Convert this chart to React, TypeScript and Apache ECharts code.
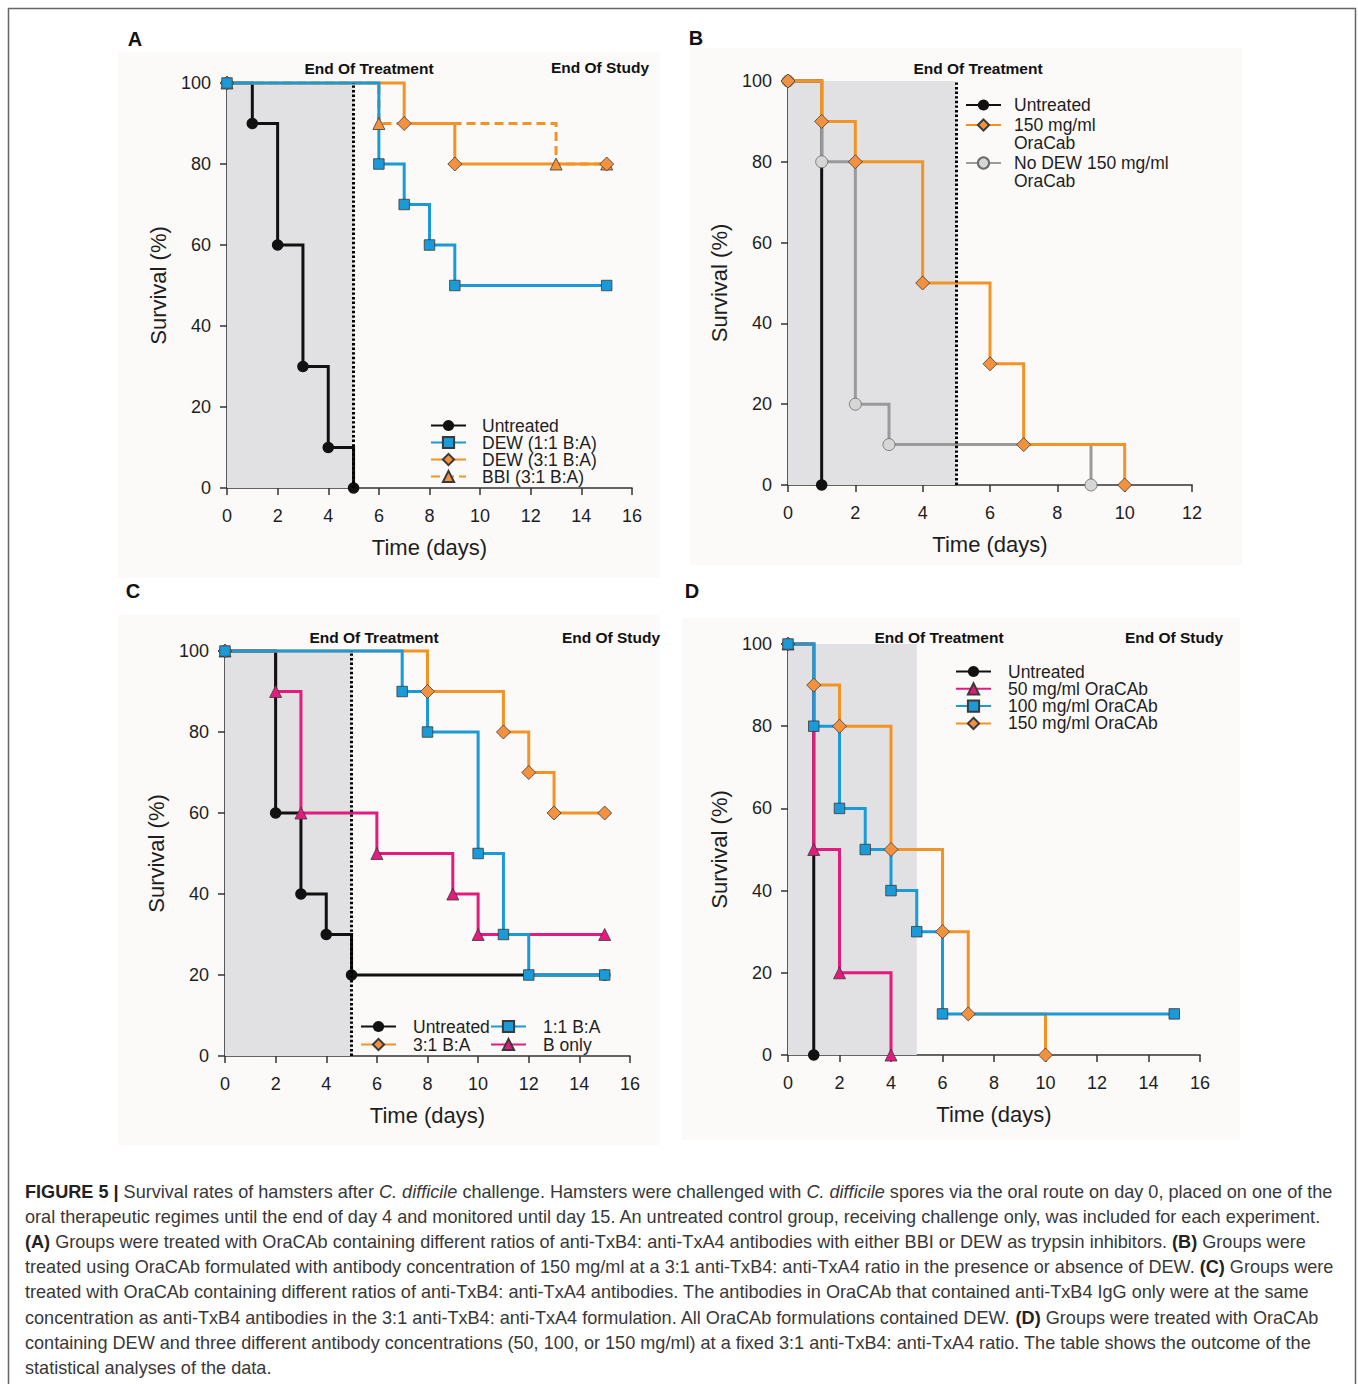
import React, { useEffect, useRef } from 'react';
import * as echarts from 'echarts';

const FONT = '"Liberation Sans", Arial, Helvetica, sans-serif';

// ---------- Panel A ----------
const aDaysUntreated = [0, 1, 2, 3, 4, 5];
const aSurvUntreated = [100, 90, 60, 30, 10, 0];
const aDaysDew11 = [0, 6, 7, 8, 9, 15];
const aSurvDew11 = [100, 80, 70, 60, 50, 50];
const aDaysDew31 = [0, 7, 9, 15];
const aSurvDew31 = [100, 90, 80, 80];
const aDaysBbi31 = [0, 6, 13, 15];
const aSurvBbi31 = [100, 90, 80, 80];

// ---------- Panel B ----------
const bDaysUntreated = [0, 1];
const bSurvUntreated = [100, 0];
const bDays150 = [0, 1, 2, 4, 6, 7, 10];
const bSurv150 = [100, 90, 80, 50, 30, 10, 0];
const bDaysNoDew = [0, 1, 2, 3, 9];
const bSurvNoDew = [100, 80, 20, 10, 0];

// ---------- Panel C ----------
const cDaysUntreated = [0, 2, 3, 4, 5, 15];
const cSurvUntreated = [100, 60, 40, 30, 20, 20];
const cDays11 = [0, 7, 8, 10, 11, 12, 15];
const cSurv11 = [100, 90, 80, 50, 30, 20, 20];
const cDays31 = [0, 8, 11, 12, 13, 15];
const cSurv31 = [100, 90, 80, 70, 60, 60];
const cDaysBOnly = [0, 2, 3, 6, 9, 10, 15];
const cSurvBOnly = [100, 90, 60, 50, 40, 30, 30];

// ---------- Panel D ----------
const dDaysUntreated = [0, 1];
const dSurvUntreated = [100, 0];
const dDays50 = [0, 1, 2, 4];
const dSurv50 = [100, 50, 20, 0];
const dDays100 = [0, 1, 2, 3, 4, 5, 6, 15];
const dSurv100 = [100, 80, 60, 50, 40, 30, 10, 10];
const dDays150 = [0, 1, 2, 4, 6, 7, 10];
const dSurv150 = [100, 90, 80, 50, 30, 10, 0];

// axes
const xMaxByPanel = [16, 12, 16, 16];
const xInterval = 2;
const yMax = 100;
const yInterval = 20;
const treatmentEndDay = 5;
const studyEndDay = 15;
const panelLetters = ['A', 'B', 'C', 'D'];

const captionLines = [
  '{b|FIGURE 5 |} Survival rates of hamsters after {i|C. difficile} challenge. Hamsters were challenged with {i|C. difficile} spores via the oral route on day 0, placed on one of the',
  'oral therapeutic regimes until the end of day 4 and monitored until day 15. An untreated control group, receiving challenge only, was included for each experiment.',
  '{b|(A)} Groups were treated with OraCAb containing different ratios of anti-TxB4: anti-TxA4 antibodies with either BBI or DEW as trypsin inhibitors. {b|(B)} Groups were',
  'treated using OraCAb formulated with antibody concentration of 150 mg/ml at a 3:1 anti-TxB4: anti-TxA4 ratio in the presence or absence of DEW. {b|(C)} Groups were',
  'treated with OraCAb containing different ratios of anti-TxB4: anti-TxA4 antibodies. The antibodies in OraCAb that contained anti-TxB4 IgG only were at the same',
  'concentration as anti-TxB4 antibodies in the 3:1 anti-TxB4: anti-TxA4 formulation. All OraCAb formulations contained DEW. {b|(D)} Groups were treated with OraCAb',
  'containing DEW and three different antibody concentrations (50, 100, or 150 mg/ml) at a fixed 3:1 anti-TxB4: anti-TxA4 ratio. The table shows the outcome of the',
  'statistical analyses of the data.',
];

const BLACK = '#111111';
const BLUE = '#1a9ad7';
const ORANGE = '#f39325';
const ORANGE_FILL = '#f3913f';
const PINK = '#e31b7e';
const GRAY = '#9a9a9a';
const GRAY_FILL = '#d6d6d6';
const EDGE = '#3a3a3a';
const AXIS = '#333333';
const TEXT = '#1e1e1e';
const CAPTION_SIZE = 18.1;

type St = { symbol: string; size: number | number[]; line: string; fill: string; border: string; bw: number; dash?: any };

const S_UNTREATED: St = { symbol: 'circle', size: 11.5, line: BLACK, fill: BLACK, border: BLACK, bw: 0 };
const S_BLUE: St = { symbol: 'rect', size: 10.5, line: BLUE, fill: BLUE, border: EDGE, bw: 0.8 };
const S_ORANGE: St = { symbol: 'diamond', size: 14, line: ORANGE, fill: ORANGE_FILL, border: EDGE, bw: 0.8 };
const S_ORANGE_DASH: St = { symbol: 'triangle', size: 12, line: ORANGE, fill: ORANGE_FILL, border: EDGE, bw: 0.8, dash: [9, 5] };
const S_PINK: St = { symbol: 'triangle', size: 12, line: PINK, fill: PINK, border: EDGE, bw: 0.8 };
const S_GRAY: St = { symbol: 'circle', size: 12, line: GRAY, fill: GRAY_FILL, border: '#6a6a6a', bw: 0.8 };

const grids = [
  { left: 227, top: 83, width: 405, height: 405 },
  { left: 788, top: 81, width: 404, height: 404 },
  { left: 225, top: 651, width: 405, height: 405 },
  { left: 788, top: 644, width: 412, height: 411 },
];

const zip = (xs: number[], ys: number[]) => xs.map((x, i) => [x, ys[i]]);

function km(name: string, days: number[], surv: number[], panel: number, st: St, extra: any = {}) {
  return {
    type: 'line',
    name,
    xAxisIndex: panel,
    yAxisIndex: panel,
    step: 'end',
    data: zip(days, surv),
    symbol: st.symbol,
    symbolSize: st.size,
    showAllSymbol: true,
    clip: false,
    silent: true,
    emphasis: { disabled: true },
    lineStyle: { color: st.line, width: 3, type: st.dash || 'solid', join: 'miter', cap: 'butt' },
    itemStyle: { color: st.fill, borderColor: st.border, borderWidth: st.bw },
    ...extra,
  };
}

function panelMarkers(panel: number, withStudyEnd: boolean, studyTop: number, treatTop: number) {
  const lines: any[] = [[{ coord: [treatmentEndDay, 0] }, { coord: [treatmentEndDay, treatTop] }]];
  if (withStudyEnd) lines.push([{ coord: [studyEndDay, 0] }, { coord: [studyEndDay, studyTop] }]);
  return {
    markArea: {
      silent: true,
      itemStyle: { color: '#e1e1e3' },
      data: [[{ coord: [0, 0] }, { coord: [treatmentEndDay, yMax] }]],
    },
    markLine: {
      silent: true,
      symbol: ['none', 'none'],
      label: { show: false },
      emphasis: { disabled: true },
      lineStyle: { color: '#000000', width: 3, type: [2.4, 2.2], cap: 'butt' },
      data: lines,
    },
  };
}

function legendBase(left: number, top: number, data: any[], padLeft: number, extra: any = {}) {
  return {
    left,
    top,
    orient: 'vertical',
    itemWidth: 35,
    itemHeight: 14,
    itemGap: -1,
    padding: 0,
    selectedMode: false,
    data,
    textStyle: { fontSize: 17.5, lineHeight: 17, fontFamily: FONT, color: TEXT, padding: [0, 0, 0, padLeft] },
    ...extra,
  };
}

function buildOption() {
  const series = [
    // A
    km('Untreated', aDaysUntreated, aSurvUntreated, 0, S_UNTREATED, panelMarkers(0, true, 101.2, 100)),
    km('BBI (3:1 B:A)', aDaysBbi31, aSurvBbi31, 0, S_ORANGE_DASH),
    km('DEW (3:1 B:A)', aDaysDew31, aSurvDew31, 0, S_ORANGE),
    km('DEW (1:1 B:A)', aDaysDew11, aSurvDew11, 0, S_BLUE),
    // B
    km('Untreated', bDaysUntreated, bSurvUntreated, 1, S_UNTREATED, panelMarkers(1, false, 100, 100)),
    km('No DEW 150 mg/ml OraCab', bDaysNoDew, bSurvNoDew, 1, S_GRAY),
    km('150 mg/ml OraCab', bDays150, bSurv150, 1, S_ORANGE),
    // C
    km('B only', cDaysBOnly, cSurvBOnly, 2, S_PINK, panelMarkers(2, true, 101.2, 100)),
    km('Untreated', cDaysUntreated, cSurvUntreated, 2, S_UNTREATED),
    km('3:1 B:A', cDays31, cSurv31, 2, S_ORANGE),
    km('1:1 B:A', cDays11, cSurv11, 2, S_BLUE),
    // D
    km('Untreated', dDaysUntreated, dSurvUntreated, 3, S_UNTREATED, panelMarkers(3, true, 100.3, 100.3)),
    km('50 mg/ml OraCAb', dDays50, dSurv50, 3, S_PINK),
    km('150 mg/ml OraCAb', dDays150, dSurv150, 3, S_ORANGE),
    km('100 mg/ml OraCAb', dDays100, dSurv100, 3, S_BLUE),
  ];

  const xAxis = grids.map((_, i) => ({
    gridIndex: i,
    type: 'value',
    min: 0,
    max: xMaxByPanel[i],
    interval: xInterval,
    axisLine: { show: true, onZero: false, lineStyle: { color: AXIS, width: 1.6 } },
    axisTick: { show: true, length: 7, lineStyle: { color: AXIS, width: 1.5 } },
    axisLabel: { fontSize: 18, color: TEXT, margin: 19, fontFamily: FONT },
    splitLine: { show: false },
    name: 'Time (days)',
    nameLocation: 'middle',
    nameGap: 48,
    nameTextStyle: { fontSize: 22, color: TEXT, fontFamily: FONT },
  }));

  const yAxis = grids.map((_, i) => ({
    gridIndex: i,
    type: 'value',
    min: 0,
    max: yMax,
    interval: yInterval,
    axisLine: { show: true, onZero: false, lineStyle: { color: AXIS, width: 1.6 } },
    axisTick: { show: true, length: 7, lineStyle: { color: AXIS, width: 1.5 } },
    axisLabel: { fontSize: 18, color: TEXT, margin: 16, fontFamily: FONT },
    splitLine: { show: false },
    name: 'Survival (%)',
    nameLocation: 'middle',
    nameGap: 58,
    nameTextStyle: { fontSize: 22, color: TEXT, fontFamily: FONT },
  }));

  // three text lines (blank, name, "OraCab") centre the name line on the icon
  const bFormatter = (n: string) => '\n' + n.replace(' OraCab', '\nOraCab');
  const bText = { fontSize: 17.5, lineHeight: 18, fontFamily: FONT, color: TEXT, padding: [0, 0, 0, 8] };
  const legend = [
    legendBase(430, 416.5, ['Untreated', 'DEW (1:1 B:A)', 'DEW (3:1 B:A)', 'BBI (3:1 B:A)'], 11),
    legendBase(965, 96, ['Untreated'], 8, { textStyle: bText }),
    legendBase(965, 98, ['150 mg/ml OraCab'], 8, { formatter: bFormatter, textStyle: bText }),
    legendBase(965, 136, ['No DEW 150 mg/ml OraCab'], 8, { formatter: bFormatter, textStyle: bText }),
    legendBase(360, 1017.5, ['Untreated', '3:1 B:A'], 12, { itemGap: 0 }),
    legendBase(490, 1017.5, ['1:1 B:A', 'B only'], 12, { itemGap: 0 }),
    legendBase(955, 662.5, ['Untreated', '50 mg/ml OraCAb', '100 mg/ml OraCAb', '150 mg/ml OraCAb'], 12, {
      itemGap: -0.7,
    }),
  ];

  const bgRects = [
    { x: 118, y: 52, width: 542, height: 526 },
    { x: 690, y: 48, width: 552, height: 517 },
    { x: 118, y: 615, width: 542, height: 530 },
    { x: 682, y: 618, width: 558, height: 522 },
  ];
  const letterPos = [
    [135, 39],
    [696, 38],
    [133, 591],
    [692, 591],
  ];
  const notes = [
    ['End Of Treatment', 369, 68],
    ['End Of Study', 600, 67],
    ['End Of Treatment', 978, 68],
    ['End Of Treatment', 374, 637],
    ['End Of Study', 611, 637],
    ['End Of Treatment', 939, 637],
    ['End Of Study', 1174, 637],
  ];

  const graphic: any[] = [];
  bgRects.forEach((r) =>
    graphic.push({ type: 'rect', silent: true, z: -10, shape: r, style: { fill: '#fbfaf9' } })
  );
  graphic.push({
    type: 'rect',
    silent: true,
    z: -5,
    shape: { x: 8.5, y: 8.5, width: 1347, height: 1420 },
    style: { fill: 'none', stroke: '#666666', lineWidth: 1.5 },
  });
  panelLetters.forEach((l, i) =>
    graphic.push({
      type: 'text',
      silent: true,
      x: letterPos[i][0],
      y: letterPos[i][1],
      style: { text: l, fontSize: 20, fontWeight: 'bold', fontFamily: FONT, fill: BLACK, align: 'center', verticalAlign: 'middle' },
    })
  );
  notes.forEach(([t, x, y]) =>
    graphic.push({
      type: 'text',
      silent: true,
      x,
      y,
      style: { text: t, fontSize: 15.5, fontWeight: 'bold', fontFamily: FONT, fill: BLACK, align: 'center', verticalAlign: 'middle' },
    })
  );
  captionLines.forEach((line, i) =>
    graphic.push({
      type: 'text',
      silent: true,
      x: 25,
      y: 1192 + i * 25.1,
      style: {
        text: line,
        fontSize: CAPTION_SIZE,
        fontFamily: FONT,
        fill: '#383838',
        align: 'left',
        verticalAlign: 'middle',
        rich: {
          b: { fontSize: CAPTION_SIZE, fontFamily: FONT, fontWeight: 'bold', fill: '#222222' },
          i: { fontSize: CAPTION_SIZE, fontFamily: FONT, fontStyle: 'italic', fill: '#383838' },
        },
      },
    })
  );

  return {
    animation: false,
    backgroundColor: '#ffffff',
    textStyle: { fontFamily: FONT },
    grid: grids.map((g) => ({ ...g, containLabel: false, outerBoundsMode: 'none' })),
    xAxis,
    yAxis,
    legend,
    series,
    graphic,
  };
}

export default function App() {
  const ref = useRef<HTMLDivElement>(null);
  useEffect(() => {
    if (!ref.current) return;
    const chart = echarts.init(ref.current, null, { renderer: 'svg' });
    chart.setOption(buildOption() as any);
    return () => chart.dispose();
  }, []);
  return (
    <div
      ref={ref}
      style={{ position: 'absolute', left: 0, top: 0, width: 1358, height: 1384, background: '#ffffff' }}
    />
  );
}
